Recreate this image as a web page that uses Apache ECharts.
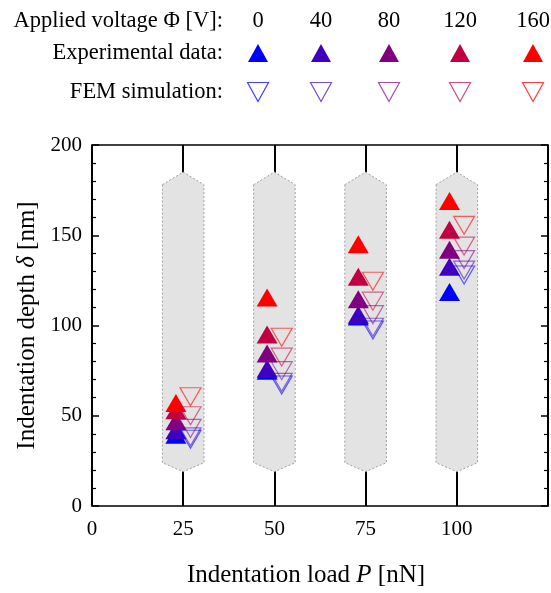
<!DOCTYPE html>
<html>
<head>
<meta charset="utf-8">
<script src="https://cdn.jsdelivr.net/npm/echarts@6/dist/echarts.min.js"></script>
<style>html,body{margin:0;padding:0;background:#fff}#c{width:551px;height:593px}</style>
</head>
<body>
<div id="c"></div>
<script>
// ---- data ----
const voltages = ['0', '40', '80', '120', '160'];
const loadsExp = [23, 48, 73, 98];
const loadsFem = [27, 52, 77, 102];
// experimental indentation depth [nm], one row per voltage
const exp0 = [39.5, 75, 105, 118.5];
const exp40 = [42, 76, 106, 132.5];
const exp80 = [47, 84.5, 114.5, 142];
const exp120 = [53, 95, 127, 153];
const exp160 = [57, 115.5, 145, 169];
// FEM simulation depth [nm]
const fem0 = [37, 67, 97.5, 128];
const fem40 = [38.3, 68.5, 99, 130.7];
const fem80 = [43, 75, 106, 136.5];
const fem120 = [50, 82.5, 113.5, 144];
const fem160 = [60.5, 93.5, 124.5, 155.5];
// shaded bands at nominal loads
const bandLoads = [25, 50, 75, 100];
const xTicks = [0, 25, 50, 75, 100];
const yTicks = [0, 50, 100, 150, 200];

// ---- styles ----
const expColors = ['#0000ff', '#4000c0', '#800080', '#c00040', '#ff0000'];
const femColors = ['rgba(0,0,255,0.75)', 'rgba(64,0,192,0.7)', 'rgba(128,0,128,0.7)', 'rgba(192,0,64,0.7)', 'rgba(255,0,0,0.75)'];
const expSets = [exp0, exp40, exp80, exp120, exp160];
const femSets = [fem0, fem40, fem80, fem120, fem160];
const band = {top: 185, shTop: 178, shBot: 24, bot: 19, hw: 5.7};
const FONT = '"Liberation Serif", "Times New Roman", serif';

const chart = echarts.init(document.getElementById('c'), null, {renderer: 'canvas'});

const series = [];
series.push({
  type: 'custom',
  z: 1,
  silent: true,
  data: bandLoads.map(x => [x, 100]),
  renderItem(params, api) {
    const c = api.value(0);
    const p = [[c - band.hw, band.shTop], [c, band.top], [c + band.hw, band.shTop],
               [c + band.hw, band.shBot], [c, band.bot], [c - band.hw, band.shBot]].map(q => api.coord(q));
    return {type: 'polygon', shape: {points: p},
      style: {fill: '#e3e3e3', stroke: '#a0a0a0', lineWidth: 1, lineDash: [2, 2]}};
  }
});
expSets.forEach((arr, i) => {
  series.push({
    type: 'scatter', z: 3, name: 'exp' + voltages[i],
    symbol: 'triangle', symbolSize: [21, 18],
    itemStyle: {color: expColors[i], opacity: 1},
    data: arr.map((v, k) => [loadsExp[k], v])
  });
});
femSets.forEach((arr, i) => {
  series.push({
    type: 'scatter', z: 4, name: 'fem' + voltages[i],
    symbol: 'triangle', symbolRotate: 180, symbolSize: [21, 18],
    itemStyle: {color: 'rgba(0,0,0,0)', borderColor: femColors[i], borderWidth: 1.2},
    data: arr.map((v, k) => [loadsFem[k], v])
  });
});

// ---- legend (graphic) ----
const colX = [258, 321, 389, 460, 533];
const rowY = [21, 53, 92];
const graphic = [];
const labTexts = ['Applied voltage Φ [V]:', 'Experimental data:', 'FEM simulation:'];
labTexts.forEach((t, r) => {
  graphic.push({type: 'text', x: 223, y: rowY[r],
    style: {text: t, fill: '#000', font: '22.5px ' + FONT, align: 'right', verticalAlign: 'middle'}});
});
voltages.forEach((v, i) => {
  const x = colX[i];
  graphic.push({type: 'text', x: x, y: rowY[0],
    style: {text: v, fill: '#000', font: '22.5px ' + FONT, align: 'center', verticalAlign: 'middle'}});
  graphic.push({type: 'polygon', shape: {points: [[x - 10, rowY[1] + 9], [x, rowY[1] - 9], [x + 10, rowY[1] + 9]]},
    style: {fill: expColors[i]}});
  graphic.push({type: 'polygon', shape: {points: [[x - 10.5, rowY[2] - 9.5], [x + 10.5, rowY[2] - 9.5], [x, rowY[2] + 9.5]]},
    style: {fill: 'none', stroke: femColors[i], lineWidth: 1.2}});
});

const labelStyle = {color: '#000', fontSize: 21, fontFamily: FONT};
chart.setOption({
  animation: false,
  backgroundColor: '#fff',
  grid: {left: 92, right: 3, top: 145, bottom: 87},
  graphic: graphic,
  xAxis: [{
    type: 'value', min: 0, max: 125, interval: 25,
    name: 'Indentation load {i|P} [nN]', nameLocation: 'middle', nameGap: 57,
    nameTextStyle: {color: '#000', fontSize: 25, fontFamily: FONT, padding: [0, 28, 0, 0],
      rich: {i: {fontStyle: 'italic', fontSize: 25, fontFamily: FONT, color: '#000'}}},
    axisLine: {show: true, lineStyle: {color: '#000', width: 1.5}},
    axisTick: {show: false},
    axisLabel: Object.assign({margin: 13, showMaxLabel: false,
      formatter: v => (xTicks.indexOf(v) >= 0 ? String(v) : '')}, labelStyle),
    splitLine: {show: true, lineStyle: {color: '#000', width: 2}}
  }, {
    type: 'value', position: 'top', min: 0, max: 125, interval: 25,
    axisLine: {show: true, onZero: false, lineStyle: {color: '#000', width: 1.5}},
    axisTick: {show: false}, axisLabel: {show: false}, splitLine: {show: false}
  }],
  yAxis: [{
    type: 'value', min: 0, max: 200, interval: 50,
    name: 'Indentation depth {i|δ} [nm]', nameLocation: 'middle', nameGap: 51,
    nameTextStyle: {color: '#000', fontSize: 25, fontFamily: FONT,
      rich: {i: {fontStyle: 'italic', fontSize: 25, fontFamily: FONT, color: '#000'}}},
    axisLine: {show: true, lineStyle: {color: '#000', width: 1.5}},
    axisTick: {show: true, inside: true, length: 7, lineStyle: {color: '#000', width: 1.5}},
    minorTick: {show: true, splitNumber: 5, length: 4, lineStyle: {color: '#000', width: 1.2}},
    axisLabel: Object.assign({margin: 10, formatter: v => (yTicks.indexOf(v) >= 0 ? String(v) : '')}, labelStyle),
    splitLine: {show: false}
  }, {
    type: 'value', position: 'right', min: 0, max: 200, interval: 50,
    axisLine: {show: true, onZero: false, lineStyle: {color: '#000', width: 1.5}},
    axisTick: {show: true, inside: true, length: 7, lineStyle: {color: '#000', width: 1.5}},
    minorTick: {show: true, splitNumber: 5, length: 4, lineStyle: {color: '#000', width: 1.2}},
    axisLabel: {show: false}, splitLine: {show: false}
  }],
  series: series
});
</script>
</body>
</html>
